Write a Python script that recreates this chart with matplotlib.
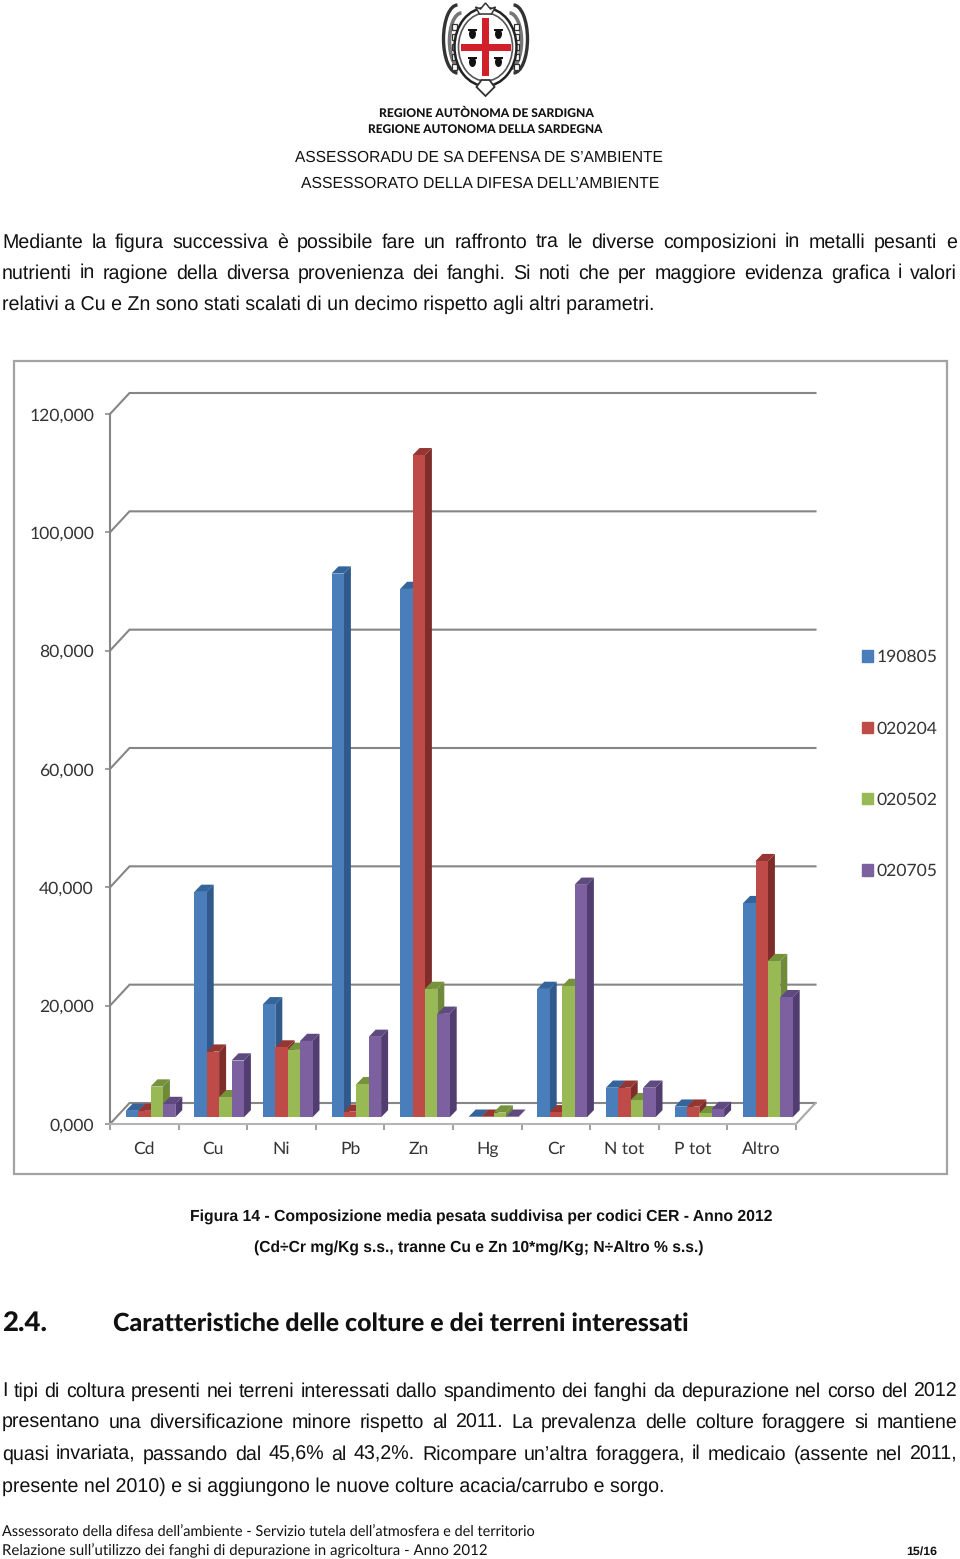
import matplotlib
matplotlib.use("Agg")
import matplotlib.pyplot as plt
from matplotlib.patches import Patch, Ellipse, Arc, Rectangle, Polygon

plt.rcParams["text.hinting"] = "no_hinting"

categories = ["Cd", "Cu", "Ni", "Pb", "Zn", "Hg", "Cr", "N tot", "P tot", "Altro"]
series_names = ["190805", "020204", "020502", "020705"]
s190805 = [1.1, 38.1, 19.1, 91.9, 89.3, 0.1, 21.7, 5.0, 1.8, 36.2]
s020204 = [1.1, 11.1, 11.8, 0.95, 111.9, 0.1, 0.85, 5.0, 1.8, 43.3]
s020502 = [5.2, 3.4, 11.4, 5.6, 21.7, 0.8, 22.2, 2.9, 0.7, 26.4]
s020705 = [2.25, 9.6, 12.9, 13.6, 17.5, 0.1, 39.3, 5.0, 1.4, 20.3]
yticks = [0, 20, 40, 60, 80, 100, 120]

front = ["#4A7EBB", "#BE4B48", "#98B954", "#7D60A0"]
side = ["#2F5A8B", "#7E2D2A", "#6F8B3A", "#523D70"]
top = ["#33649C", "#963633", "#76923C", "#5F4A80"]
GRID = "#868686"

W, H = 960, 1559
fig = plt.figure(figsize=(W / 100, H / 100), dpi=100, facecolor="white")
ov = fig.add_axes([0, 0, 1, 1], zorder=0)
ov.set_xlim(0, W)
ov.set_ylim(H, 0)
ov.axis("off")
renderer = fig.canvas.get_renderer()
TY = 1.3


def fitted(x0, x1, y, s, family="Liberation Sans", weight="normal", size=None, color="#111111", **kw):
    t = ov.text(x0, y + TY, s, family=family, weight=weight, va="center", ha="left", color=color,
                fontsize=size or 12, **kw)
    if x1 is not None:
        for _ in range(3):
            wd = t.get_window_extent(renderer).width
            t.set_fontsize(t.get_fontsize() * (x1 - x0) / wd)
    return t


def justified(x0, x1, y, s, size):
    words = s.split(" ")
    ts = [ov.text(x0, y + TY, w, family="Liberation Sans", va="center", ha="left", fontsize=size,
                  color="#111111") for w in words]
    widths = [t.get_window_extent(renderer).width for t in ts]
    gap = (x1 - x0 - sum(widths)) / (len(words) - 1)
    x = x0
    for t, w in zip(ts, widths):
        t.set_x(x)
        x += w + gap


# ---------- crest ----------
cx, cy = 485.5, 47
for sgn in (1, -1):
    t1, t2 = (-90, 90) if sgn > 0 else (90, 270)
    ov.add_patch(Arc((cx + sgn * 28, cy - 8), 28, 68, theta1=t1, theta2=t2, color="#333333", lw=2.4))
    ov.add_patch(Arc((cx + sgn * 24, cy - 6), 24, 56, theta1=t1, theta2=t2, color="#777777", lw=2.6))
    for dy in (-20, -10, 0, 10, 20):
        ov.add_patch(Rectangle((cx + sgn * 31 - 2.5, cy + dy - 3), 5, 6, fc="white", ec="#333333", lw=0.9))
ov.add_patch(Ellipse((cx, cy), 62, 78, fc="white", ec="#222222", lw=1.8))
ov.add_patch(Ellipse((cx, cy), 54, 68, fc="white", ec="#555555", lw=1.2))
ov.add_patch(Rectangle((cx - 3.5, cy - 29), 7, 58, fc="#D2202A", ec="none"))
ov.add_patch(Rectangle((cx - 25, cy - 3.5), 50, 7, fc="#D2202A", ec="none"))
for dx, dy in ((-13, -13), (13, -13), (-13, 15), (13, 15)):
    ov.add_patch(Ellipse((cx + dx, cy + dy), 7, 10, fc="#111111", ec="none"))
    ov.add_patch(Rectangle((cx + dx - 4.5, cy + dy - 5), 9, 2, fc="#111111", ec="none"))
ov.add_patch(Polygon([(cx, 3), (cx + 5, 9), (cx + 10, 7), (cx + 6, 14), (cx - 6, 14), (cx - 10, 7), (cx - 5, 9)],
                     fc="white", ec="#333333", lw=1.1))
ov.add_patch(Polygon([(cx, 96), (cx + 9, 87), (cx + 4, 80), (cx - 4, 80), (cx - 9, 87)],
                     fc="white", ec="#333333", lw=1.3))

# ---------- header ----------
fitted(379, 592, 112, "REGIONE AUTÒNOMA DE SARDIGNA", family="Lato", weight="black")
fitted(368, 603, 128, "REGIONE AUTONOMA DELLA SARDEGNA", family="Lato", weight="black")
fitted(295, 665, 156, "ASSESSORADU DE SA DEFENSA DE S’AMBIENTE")
fitted(301, 659, 182, "ASSESSORATO DELLA DIFESA DELL’AMBIENTE")

# ---------- paragraphs ----------
probe = fitted(2, 654, 303, "relativi a Cu e Zn sono stati scalati di un decimo rispetto agli altri parametri.")
BODY = probe.get_fontsize()
justified(2, 957, 241, "Mediante la figura successiva è possibile fare un raffronto tra le diverse composizioni in metalli pesanti e", BODY)
justified(2, 957, 272, "nutrienti in ragione della diversa provenienza dei fanghi. Si noti che per maggiore evidenza grafica i valori", BODY)

# ---------- chart frame ----------
ov.add_patch(Rectangle((14, 361), 933, 813, fc="white", ec="#A3A3A3", lw=1.6))

# ---------- chart ----------
AX0, AX1, AY0, AY1 = 110, 796, 414, 1124
ax = fig.add_axes([AX0 / W, 1 - AY1 / H, (AX1 - AX0) / W, (AY1 - AY0) / H], zorder=1)
ax.patch.set_alpha(0)
ax.set_xlim(0, len(categories))
ax.set_ylim(yticks[0], yticks[-1])
ux = (AX1 - AX0) / len(categories)
uy = (AY1 - AY0) / yticks[-1]

wall_dx, wall_dy = 19.5 / ux, 21 / uy
for v in yticks:
    ax.plot([0, wall_dx, len(categories) + wall_dx], [v, v + wall_dy, v + wall_dy],
            color=GRID, lw=1.5, clip_on=False, zorder=1, solid_joinstyle="miter")
ax.plot([len(categories), len(categories) + wall_dx], [0, wall_dy], color="#A8A8A8", lw=1.5,
        clip_on=False, zorder=1)

bar_w = 12.4 / ux
gap0 = 15.7 / ux
base = 6.7 / uy
ddx, ddy = 7.0 / ux, 7.2 / uy
z = 2
for k, vals in enumerate([s190805, s020204, s020502, s020705]):
    for i, v in enumerate(vals):
        x0 = i + gap0 + k * bar_w
        x1 = x0 + bar_w
        b, t = base, base + v
        ax.fill([x1, x1 + ddx, x1 + ddx, x1], [b, b + ddy, t + ddy, t], color=side[k], lw=0,
                clip_on=False, zorder=z)
        ax.fill([x0, x1, x1 + ddx, x0 + ddx], [t, t, t + ddy, t + ddy], color=top[k], lw=0,
                clip_on=False, zorder=z)
        ax.bar(x0, v, bottom=base, width=bar_w, align="edge", color=front[k], lw=0,
               clip_on=False, zorder=z + 0.5)
        z += 1

for sp in ("top", "right"):
    ax.spines[sp].set_visible(False)
ax.spines["left"].set_color(GRID)
ax.spines["left"].set_linewidth(1.5)
ax.spines["bottom"].set_color("#B5B5B5")
ax.spines["bottom"].set_linewidth(1.5)
ax.set_yticks(yticks)
ax.set_yticklabels([f"{v},000" if v else "0,000" for v in yticks], family="Lato", fontsize=12.6, color="#333333")
ax.tick_params(axis="y", length=3.5, width=1.1, color=GRID, pad=8)
ax.set_xticks(range(len(categories) + 1))
ax.set_xticklabels([])
ax.set_xticks([i + 0.5 for i in range(len(categories))], minor=True)
ax.set_xticklabels(categories, minor=True, family="Lato", fontsize=12.6, color="#333333")
ax.tick_params(axis="x", which="major", length=4.5, width=1.1, color=GRID)
ax.tick_params(axis="x", which="minor", length=0, pad=12.5)

handles = [Patch(color=c) for c in front]
ax.legend(handles, series_names, loc="upper left", bbox_to_anchor=(862, 649.5), bbox_transform=ov.transData,
          frameon=False, borderpad=0, borderaxespad=0, handlelength=0.63, handleheight=0.63,
          handletextpad=0.2, labelspacing=3.2, prop={"family": "Lato", "size": 12.6},
          labelcolor="#333333")

# ---------- caption ----------
fitted(190, 770, 1215, "Figura 14 - Composizione media pesata suddivisa per codici CER - Anno 2012", weight="bold")
fitted(254, 706, 1246, "(Cd÷Cr mg/Kg s.s., tranne Cu e Zn 10*mg/Kg; N÷Altro % s.s.)", weight="bold")

# ---------- section ----------
fitted(2, 47, 1322, "2.4.", family="Lato", weight="black")
fitted(113, 687, 1322, "Caratteristiche delle colture e dei terreni interessati", family="Lato", weight="black")
justified(2, 957, 1390, "I tipi di coltura presenti nei terreni interessati dallo spandimento dei fanghi da depurazione nel corso del 2012", BODY)
justified(2, 957, 1421, "presentano una diversificazione minore rispetto al 2011. La prevalenza delle colture foraggere si mantiene", BODY)
justified(2, 957, 1453, "quasi invariata, passando dal 45,6% al 43,2%. Ricompare un’altra foraggera, il medicaio (assente nel 2011,", BODY)
fitted(2, 663, 1485, "presente nel 2010) e si aggiungono le nuove colture acacia/carrubo e sorgo.", size=BODY)

# ---------- footer ----------
fitted(2, 535, 1531, "Assessorato della difesa dell’ambiente - Servizio tutela dell’atmosfera e del territorio", family="Lato")
fitted(2, 484, 1549, "Relazione sull’utilizzo dei fanghi di depurazione in agricoltura - Anno 2012", family="Lato")
fitted(906, 937, 1550, "15/16", weight="bold")

fig.savefig("out.png", dpi=100, facecolor="white")
